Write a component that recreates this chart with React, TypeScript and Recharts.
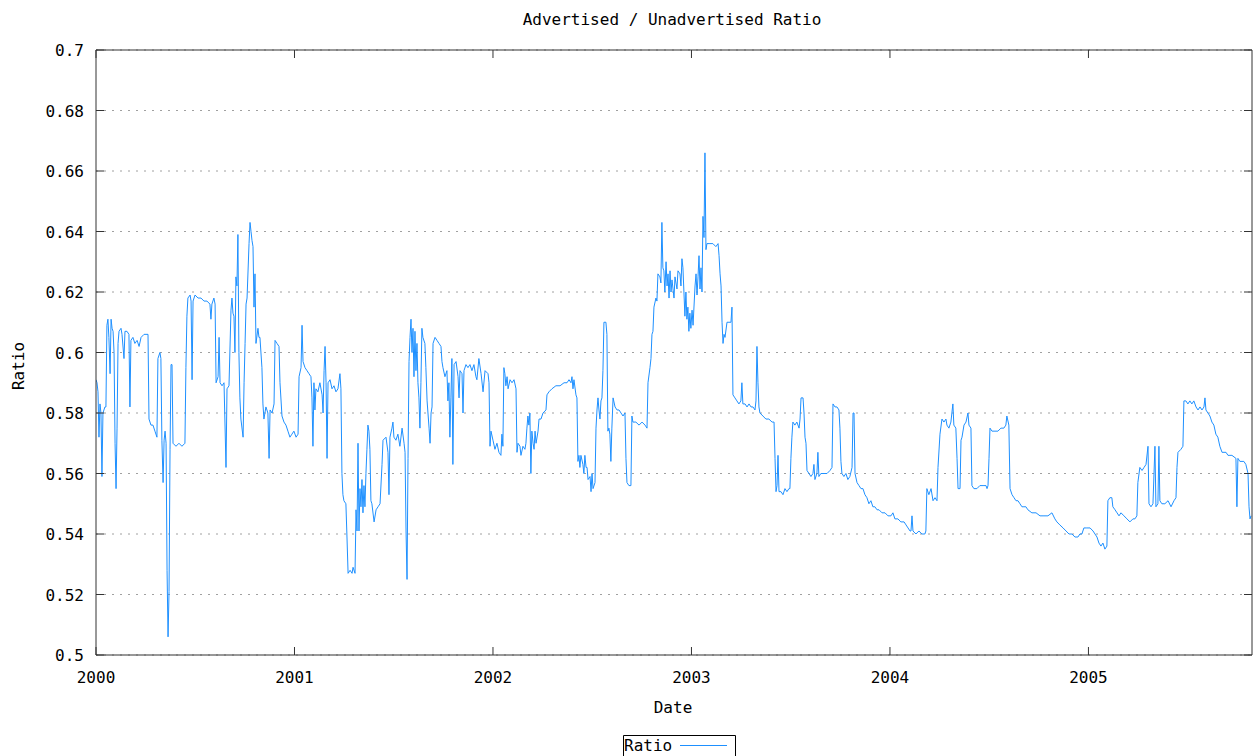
import React from 'react';
import { LineChart, Line, XAxis, YAxis, CartesianGrid, Legend } from 'recharts';

// [decimal year, ratio]
const year2000: [number, number][] = [
  [2000.000, 0.591], [2000.005, 0.590], [2000.010, 0.587], [2000.015, 0.572], [2000.020, 0.583],
  [2000.025, 0.580], [2000.030, 0.559], [2000.035, 0.580], [2000.045, 0.582], [2000.050, 0.582],
  [2000.055, 0.609], [2000.060, 0.611], [2000.065, 0.605], [2000.071, 0.593], [2000.076, 0.611],
  [2000.081, 0.608], [2000.086, 0.607], [2000.091, 0.600], [2000.096, 0.570], [2000.101, 0.555],
  [2000.106, 0.575], [2000.111, 0.603], [2000.116, 0.607], [2000.126, 0.608], [2000.131, 0.606],
  [2000.141, 0.598], [2000.146, 0.607], [2000.156, 0.607], [2000.166, 0.606], [2000.171, 0.582],
  [2000.176, 0.604], [2000.186, 0.605], [2000.196, 0.603], [2000.207, 0.604], [2000.217, 0.602],
  [2000.227, 0.605], [2000.242, 0.606], [2000.262, 0.606], [2000.267, 0.578], [2000.277, 0.576],
  [2000.287, 0.576], [2000.297, 0.574], [2000.307, 0.572], [2000.312, 0.598], [2000.322, 0.600],
  [2000.327, 0.598], [2000.332, 0.571], [2000.338, 0.557], [2000.343, 0.571], [2000.348, 0.574],
  [2000.353, 0.570], [2000.358, 0.528], [2000.363, 0.506], [2000.368, 0.521], [2000.373, 0.568],
  [2000.378, 0.596], [2000.383, 0.596], [2000.388, 0.570], [2000.403, 0.569], [2000.418, 0.570],
  [2000.433, 0.569], [2000.448, 0.570], [2000.453, 0.595], [2000.458, 0.612], [2000.463, 0.618],
  [2000.474, 0.619], [2000.479, 0.617], [2000.484, 0.591], [2000.489, 0.617], [2000.499, 0.619],
  [2000.514, 0.618], [2000.529, 0.618], [2000.544, 0.617], [2000.559, 0.617], [2000.574, 0.616],
  [2000.579, 0.611], [2000.584, 0.616], [2000.594, 0.618], [2000.600, 0.616], [2000.605, 0.590],
  [2000.615, 0.592], [2000.620, 0.605], [2000.625, 0.590], [2000.635, 0.589], [2000.645, 0.590],
  [2000.655, 0.562], [2000.660, 0.588], [2000.670, 0.589], [2000.680, 0.614], [2000.685, 0.618],
  [2000.690, 0.613], [2000.695, 0.612], [2000.700, 0.600], [2000.705, 0.625], [2000.710, 0.622],
  [2000.715, 0.639], [2000.720, 0.600], [2000.725, 0.585], [2000.730, 0.578], [2000.741, 0.572],
  [2000.746, 0.590], [2000.751, 0.603], [2000.756, 0.616], [2000.761, 0.618], [2000.771, 0.636],
  [2000.776, 0.643], [2000.781, 0.640], [2000.786, 0.637], [2000.791, 0.635], [2000.796, 0.615],
  [2000.801, 0.626], [2000.806, 0.603], [2000.816, 0.608], [2000.821, 0.605], [2000.826, 0.605],
  [2000.836, 0.595], [2000.841, 0.583], [2000.846, 0.578], [2000.856, 0.582], [2000.866, 0.580],
  [2000.872, 0.565], [2000.877, 0.581], [2000.887, 0.580], [2000.897, 0.583], [2000.902, 0.604],
  [2000.912, 0.603], [2000.922, 0.602], [2000.927, 0.590], [2000.937, 0.579], [2000.947, 0.577],
  [2000.957, 0.576], [2000.967, 0.574], [2000.977, 0.572], [2000.987, 0.573], [2000.997, 0.574],
];

const year2001: [number, number][] = [
  [2001.008, 0.572], [2001.018, 0.573], [2001.023, 0.592], [2001.033, 0.595], [2001.038, 0.609],
  [2001.043, 0.597], [2001.053, 0.595], [2001.063, 0.594], [2001.073, 0.593], [2001.083, 0.592],
  [2001.088, 0.585], [2001.093, 0.569], [2001.098, 0.590], [2001.103, 0.581], [2001.108, 0.588],
  [2001.118, 0.587], [2001.128, 0.590], [2001.139, 0.586], [2001.144, 0.580], [2001.149, 0.594],
  [2001.154, 0.602], [2001.159, 0.590], [2001.164, 0.565], [2001.169, 0.590], [2001.179, 0.591],
  [2001.189, 0.588], [2001.199, 0.589], [2001.209, 0.587], [2001.219, 0.588], [2001.229, 0.593],
  [2001.234, 0.588], [2001.239, 0.560], [2001.244, 0.553], [2001.249, 0.551], [2001.259, 0.550],
  [2001.264, 0.540], [2001.270, 0.527], [2001.280, 0.528], [2001.290, 0.527], [2001.295, 0.529],
  [2001.305, 0.527], [2001.310, 0.548], [2001.315, 0.541], [2001.320, 0.570], [2001.325, 0.541],
  [2001.330, 0.555], [2001.335, 0.549], [2001.340, 0.558], [2001.345, 0.547], [2001.350, 0.556],
  [2001.355, 0.549], [2001.360, 0.560], [2001.365, 0.568], [2001.370, 0.576], [2001.375, 0.574],
  [2001.380, 0.568], [2001.385, 0.551], [2001.390, 0.550], [2001.401, 0.544], [2001.411, 0.548],
  [2001.421, 0.549], [2001.431, 0.550], [2001.441, 0.563], [2001.446, 0.571], [2001.461, 0.572],
  [2001.471, 0.567], [2001.476, 0.553], [2001.481, 0.572], [2001.491, 0.575], [2001.496, 0.577],
  [2001.501, 0.572], [2001.511, 0.571], [2001.521, 0.573], [2001.531, 0.569], [2001.542, 0.575],
  [2001.552, 0.570], [2001.557, 0.567], [2001.562, 0.541], [2001.567, 0.525], [2001.572, 0.565],
  [2001.577, 0.597], [2001.582, 0.605], [2001.587, 0.611], [2001.592, 0.600], [2001.597, 0.608],
  [2001.602, 0.592], [2001.607, 0.607], [2001.612, 0.594], [2001.617, 0.603], [2001.622, 0.590],
  [2001.627, 0.585], [2001.632, 0.575], [2001.637, 0.590], [2001.642, 0.608], [2001.647, 0.605],
  [2001.657, 0.603], [2001.662, 0.595], [2001.668, 0.584], [2001.678, 0.575], [2001.683, 0.570],
  [2001.688, 0.580], [2001.693, 0.582], [2001.698, 0.603], [2001.708, 0.605], [2001.718, 0.604],
  [2001.728, 0.603], [2001.738, 0.602], [2001.743, 0.597], [2001.748, 0.595], [2001.758, 0.592],
  [2001.768, 0.594], [2001.773, 0.584], [2001.778, 0.590], [2001.783, 0.572], [2001.788, 0.585],
  [2001.793, 0.598], [2001.798, 0.563], [2001.804, 0.596], [2001.814, 0.597], [2001.824, 0.592],
  [2001.829, 0.585], [2001.834, 0.594], [2001.844, 0.593], [2001.849, 0.580], [2001.854, 0.594],
  [2001.864, 0.596], [2001.874, 0.595], [2001.884, 0.596], [2001.894, 0.594], [2001.904, 0.596],
  [2001.914, 0.592], [2001.919, 0.591], [2001.929, 0.598], [2001.940, 0.593], [2001.950, 0.587],
  [2001.960, 0.594], [2001.975, 0.593], [2001.980, 0.590], [2001.985, 0.569], [2001.990, 0.574],
];

const year2002: [number, number][] = [
  [2002.000, 0.571], [2002.010, 0.568], [2002.020, 0.570], [2002.030, 0.567], [2002.040, 0.566],
  [2002.045, 0.573], [2002.050, 0.569], [2002.055, 0.595], [2002.060, 0.593], [2002.065, 0.589],
  [2002.071, 0.592], [2002.076, 0.588], [2002.086, 0.591], [2002.096, 0.590], [2002.106, 0.591],
  [2002.116, 0.588], [2002.121, 0.567], [2002.126, 0.570], [2002.136, 0.569], [2002.141, 0.566],
  [2002.151, 0.569], [2002.161, 0.568], [2002.166, 0.570], [2002.171, 0.575], [2002.176, 0.579],
  [2002.181, 0.576], [2002.186, 0.580], [2002.191, 0.560], [2002.196, 0.574], [2002.202, 0.570],
  [2002.207, 0.568], [2002.212, 0.574], [2002.217, 0.570], [2002.227, 0.574], [2002.232, 0.578],
  [2002.242, 0.578], [2002.252, 0.580], [2002.267, 0.581], [2002.272, 0.586], [2002.282, 0.587],
  [2002.297, 0.588], [2002.317, 0.589], [2002.338, 0.589], [2002.358, 0.590], [2002.373, 0.590],
  [2002.383, 0.591], [2002.393, 0.590], [2002.398, 0.592], [2002.403, 0.588], [2002.408, 0.591],
  [2002.418, 0.586], [2002.423, 0.585], [2002.428, 0.564], [2002.433, 0.566], [2002.438, 0.562],
  [2002.443, 0.566], [2002.453, 0.563], [2002.458, 0.560], [2002.463, 0.566], [2002.469, 0.562],
  [2002.474, 0.562], [2002.479, 0.558], [2002.489, 0.559], [2002.494, 0.554], [2002.499, 0.560],
  [2002.504, 0.555], [2002.514, 0.557], [2002.519, 0.575], [2002.524, 0.581], [2002.529, 0.585],
  [2002.534, 0.581], [2002.539, 0.578], [2002.544, 0.584], [2002.549, 0.585], [2002.554, 0.594],
  [2002.559, 0.610], [2002.569, 0.610], [2002.574, 0.606], [2002.579, 0.574], [2002.584, 0.575],
  [2002.589, 0.573], [2002.594, 0.564], [2002.599, 0.575], [2002.605, 0.585], [2002.615, 0.582],
  [2002.625, 0.581], [2002.635, 0.581], [2002.645, 0.580], [2002.655, 0.579], [2002.665, 0.580],
  [2002.670, 0.565], [2002.675, 0.557], [2002.685, 0.556], [2002.695, 0.556], [2002.700, 0.579],
  [2002.705, 0.577], [2002.720, 0.577], [2002.736, 0.576], [2002.751, 0.577], [2002.766, 0.576],
  [2002.776, 0.575], [2002.781, 0.590], [2002.791, 0.595], [2002.796, 0.598], [2002.801, 0.606],
  [2002.806, 0.607], [2002.811, 0.615], [2002.821, 0.618], [2002.826, 0.617], [2002.831, 0.626],
  [2002.841, 0.625], [2002.846, 0.623], [2002.851, 0.643], [2002.856, 0.628], [2002.861, 0.627],
  [2002.866, 0.620], [2002.872, 0.630], [2002.877, 0.622], [2002.882, 0.626], [2002.887, 0.618],
  [2002.892, 0.627], [2002.897, 0.620], [2002.902, 0.624], [2002.907, 0.621], [2002.912, 0.618],
  [2002.917, 0.625], [2002.927, 0.621], [2002.932, 0.627], [2002.942, 0.626], [2002.947, 0.622],
  [2002.952, 0.631], [2002.957, 0.628], [2002.962, 0.620], [2002.967, 0.612], [2002.972, 0.620],
  [2002.977, 0.611], [2002.982, 0.615], [2002.987, 0.607], [2002.992, 0.613], [2002.997, 0.608],
];

const year2003: [number, number][] = [
  [2003.003, 0.614], [2003.008, 0.609], [2003.018, 0.622], [2003.023, 0.626], [2003.028, 0.619],
  [2003.033, 0.625], [2003.038, 0.632], [2003.043, 0.621], [2003.048, 0.628], [2003.053, 0.620],
  [2003.058, 0.645], [2003.063, 0.638], [2003.068, 0.666], [2003.073, 0.634], [2003.078, 0.636],
  [2003.093, 0.636], [2003.108, 0.636], [2003.123, 0.635], [2003.134, 0.636], [2003.139, 0.632],
  [2003.144, 0.626], [2003.149, 0.622], [2003.154, 0.610], [2003.159, 0.603], [2003.164, 0.606],
  [2003.169, 0.605], [2003.179, 0.610], [2003.189, 0.610], [2003.199, 0.610], [2003.204, 0.615],
  [2003.209, 0.586], [2003.219, 0.585], [2003.229, 0.584], [2003.239, 0.583], [2003.249, 0.584],
  [2003.254, 0.590], [2003.259, 0.583], [2003.270, 0.583], [2003.280, 0.582], [2003.290, 0.583],
  [2003.300, 0.582], [2003.310, 0.582], [2003.320, 0.581], [2003.325, 0.584], [2003.330, 0.602],
  [2003.335, 0.590], [2003.340, 0.582], [2003.345, 0.580], [2003.360, 0.579], [2003.375, 0.578],
  [2003.390, 0.578], [2003.406, 0.577], [2003.416, 0.577], [2003.421, 0.565], [2003.426, 0.554],
  [2003.431, 0.556], [2003.436, 0.566], [2003.441, 0.554], [2003.451, 0.554], [2003.461, 0.553],
  [2003.471, 0.555], [2003.481, 0.554], [2003.491, 0.555], [2003.496, 0.555], [2003.501, 0.565],
  [2003.506, 0.572], [2003.511, 0.577], [2003.521, 0.576], [2003.531, 0.577], [2003.542, 0.575],
  [2003.547, 0.578], [2003.552, 0.585], [2003.562, 0.585], [2003.567, 0.580], [2003.572, 0.572],
  [2003.577, 0.570], [2003.582, 0.561], [2003.592, 0.560], [2003.602, 0.559], [2003.612, 0.560],
  [2003.617, 0.563], [2003.622, 0.558], [2003.632, 0.560], [2003.637, 0.567], [2003.642, 0.559],
  [2003.652, 0.560], [2003.668, 0.560], [2003.683, 0.560], [2003.698, 0.561], [2003.708, 0.562],
  [2003.713, 0.583], [2003.723, 0.582], [2003.733, 0.582], [2003.743, 0.581], [2003.748, 0.575],
  [2003.753, 0.564], [2003.758, 0.560], [2003.768, 0.559], [2003.778, 0.560], [2003.788, 0.558],
  [2003.798, 0.559], [2003.809, 0.562], [2003.814, 0.580], [2003.819, 0.580], [2003.824, 0.560],
  [2003.834, 0.557], [2003.844, 0.556], [2003.854, 0.555], [2003.864, 0.555], [2003.874, 0.553],
  [2003.884, 0.552], [2003.894, 0.550], [2003.904, 0.551], [2003.914, 0.549], [2003.924, 0.549],
  [2003.935, 0.548], [2003.945, 0.548], [2003.960, 0.547], [2003.975, 0.547], [2003.990, 0.546],
];

const year2004: [number, number][] = [
  [2004.005, 0.546], [2004.015, 0.547], [2004.025, 0.545], [2004.040, 0.545], [2004.055, 0.544],
  [2004.071, 0.544], [2004.081, 0.543], [2004.091, 0.542], [2004.101, 0.541], [2004.106, 0.541],
  [2004.111, 0.546], [2004.116, 0.541], [2004.131, 0.540], [2004.146, 0.541], [2004.161, 0.540],
  [2004.176, 0.540], [2004.181, 0.541], [2004.186, 0.555], [2004.196, 0.553], [2004.207, 0.555],
  [2004.217, 0.551], [2004.227, 0.552], [2004.237, 0.551], [2004.242, 0.562], [2004.252, 0.573],
  [2004.262, 0.578], [2004.272, 0.577], [2004.282, 0.578], [2004.287, 0.576], [2004.297, 0.575],
  [2004.307, 0.577], [2004.317, 0.583], [2004.322, 0.576], [2004.332, 0.575], [2004.338, 0.565],
  [2004.343, 0.555], [2004.353, 0.555], [2004.358, 0.571], [2004.363, 0.572], [2004.373, 0.576],
  [2004.383, 0.577], [2004.393, 0.580], [2004.398, 0.576], [2004.408, 0.575], [2004.413, 0.556],
  [2004.423, 0.555], [2004.438, 0.555], [2004.453, 0.556], [2004.469, 0.556], [2004.484, 0.556],
  [2004.489, 0.555], [2004.494, 0.556], [2004.499, 0.565], [2004.504, 0.575], [2004.514, 0.574],
  [2004.529, 0.574], [2004.544, 0.574], [2004.559, 0.575], [2004.574, 0.575], [2004.584, 0.576],
  [2004.589, 0.579], [2004.599, 0.576], [2004.605, 0.555], [2004.615, 0.553], [2004.625, 0.552],
  [2004.635, 0.551], [2004.645, 0.551], [2004.655, 0.550], [2004.665, 0.549], [2004.675, 0.549],
  [2004.685, 0.549], [2004.695, 0.548], [2004.715, 0.547], [2004.736, 0.547], [2004.756, 0.546],
  [2004.776, 0.546], [2004.796, 0.546], [2004.816, 0.547], [2004.831, 0.545], [2004.841, 0.544],
  [2004.856, 0.543], [2004.872, 0.542], [2004.887, 0.541], [2004.902, 0.540], [2004.917, 0.540],
  [2004.932, 0.539], [2004.947, 0.539], [2004.957, 0.540], [2004.967, 0.540], [2004.977, 0.542],
  [2004.992, 0.542],
];

const year2005: [number, number][] = [
  [2005.008, 0.542], [2005.023, 0.541], [2005.033, 0.540], [2005.043, 0.539], [2005.053, 0.537],
  [2005.063, 0.536], [2005.073, 0.537], [2005.083, 0.535], [2005.093, 0.536], [2005.098, 0.551],
  [2005.108, 0.552], [2005.118, 0.552], [2005.123, 0.549], [2005.134, 0.548], [2005.144, 0.547],
  [2005.154, 0.546], [2005.164, 0.547], [2005.179, 0.546], [2005.194, 0.545], [2005.209, 0.544],
  [2005.224, 0.545], [2005.234, 0.545], [2005.244, 0.546], [2005.249, 0.557], [2005.259, 0.562],
  [2005.270, 0.561], [2005.280, 0.562], [2005.290, 0.563], [2005.300, 0.569], [2005.305, 0.550],
  [2005.315, 0.549], [2005.325, 0.550], [2005.335, 0.569], [2005.340, 0.549], [2005.350, 0.550],
  [2005.355, 0.569], [2005.360, 0.551], [2005.370, 0.550], [2005.385, 0.550], [2005.401, 0.551],
  [2005.416, 0.549], [2005.431, 0.551], [2005.441, 0.552], [2005.446, 0.562], [2005.451, 0.567],
  [2005.466, 0.568], [2005.476, 0.569], [2005.481, 0.584], [2005.491, 0.584], [2005.501, 0.583],
  [2005.511, 0.584], [2005.521, 0.583], [2005.531, 0.584], [2005.542, 0.582], [2005.552, 0.581],
  [2005.562, 0.582], [2005.572, 0.581], [2005.582, 0.582], [2005.587, 0.585], [2005.592, 0.581],
  [2005.602, 0.580], [2005.612, 0.579], [2005.622, 0.577], [2005.632, 0.576], [2005.642, 0.573],
  [2005.652, 0.572], [2005.662, 0.569], [2005.673, 0.567], [2005.683, 0.567], [2005.693, 0.567],
  [2005.703, 0.566], [2005.713, 0.566], [2005.723, 0.566], [2005.743, 0.565], [2005.748, 0.549],
  [2005.753, 0.565], [2005.763, 0.564], [2005.783, 0.564], [2005.793, 0.563], [2005.804, 0.560],
  [2005.809, 0.549], [2005.814, 0.545], [2005.819, 0.546],
];

const yearTicks = [2000, 2001, 2002, 2003, 2004, 2005];
const ratioTicks = [0.5, 0.52, 0.54, 0.56, 0.58, 0.6, 0.62, 0.64, 0.66, 0.68, 0.7];
const xDomain: [number, number] = [2000, 2005.824];
const yDomain: [number, number] = [0.5, 0.7];

const TITLE = 'Advertised / Unadvertised Ratio';
const X_LABEL = 'Date';
const Y_LABEL = 'Ratio';
const SERIES_NAME = 'Ratio';

const data = [year2000, year2001, year2002, year2003, year2004, year2005]
  .flat()
  .map(([date, ratio]) => ({ date, ratio }));

const FONT = '"DejaVu Sans Mono", "Liberation Mono", monospace';
const FS = 16;
const AXIS = '#333333';
const LINE = '#1e90ff';
const TICK = 8;

const fmtRatio = (v: number) => String(Number(v.toFixed(2)));

const LeftTick = (p: any) => (
  <g>
    <line x1={p.x} y1={p.y} x2={p.x + TICK} y2={p.y} stroke={AXIS} strokeWidth={1} />
    <text x={p.x - 12} y={p.y} dy={6} textAnchor="end" fontFamily={FONT} fontSize={FS} fill="#000">
      {fmtRatio(p.payload.value)}
    </text>
  </g>
);
const RightTick = (p: any) => (
  <line x1={p.x} y1={p.y} x2={p.x - TICK} y2={p.y} stroke={AXIS} strokeWidth={1} />
);
const BottomTick = (p: any) => (
  <g>
    <line x1={p.x} y1={p.y} x2={p.x} y2={p.y - TICK} stroke={AXIS} strokeWidth={1} />
    <text x={p.x} y={p.y + 28} textAnchor="middle" fontFamily={FONT} fontSize={FS} fill="#000">
      {p.payload.value}
    </text>
  </g>
);
const TopTick = (p: any) => (
  <line x1={p.x} y1={p.y} x2={p.x} y2={p.y + TICK} stroke={AXIS} strokeWidth={1} />
);

const LegendBox = (props: any) => {
  const item = (props.payload && props.payload[0]) || { value: SERIES_NAME, color: LINE };
  return (
    <svg width={113} height={21} style={{ display: 'block', overflow: 'visible' }}>
      <rect x={0} y={0} width={113} height={21} fill="#fff" />
      <polyline points="0.5,21 0.5,0.5 112.5,0.5 112.5,21" fill="none" stroke="#000" strokeWidth={1} />
      <text x={1} y={16} fontFamily={FONT} fontSize={FS} fill="#000">{item.value}</text>
      <line x1={57} y1={10.5} x2={104} y2={10.5} stroke={item.color || LINE} strokeWidth={1} />
    </svg>
  );
};

export default function App() {
  return (
    <div style={{ position: 'relative', width: 1256, height: 756, overflow: 'hidden' }}>
      <style>{'html, body { margin: 0; padding: 0; overflow: hidden; }'}</style>
      <LineChart
        width={1256}
        height={756}
        data={data}
        margin={{ top: 49, right: 3, bottom: 71, left: 0 }}
      >
        <CartesianGrid
          xAxisId="bottom"
          yAxisId="left"
          vertical={false}
          stroke="#a0a0a0"
          strokeDasharray="2 6"
        />
        <XAxis
          xAxisId="bottom"
          dataKey="date"
          type="number"
          orientation="bottom"
          domain={xDomain}
          ticks={yearTicks}
          allowDataOverflow
          interval={0}
          height={30}
          tickSize={0}
          tickMargin={0}
          tickLine={false}
          axisLine={{ stroke: AXIS, strokeWidth: 1 }}
          tick={<BottomTick />}
        />
        <XAxis
          xAxisId="top"
          dataKey="date"
          type="number"
          orientation="top"
          domain={xDomain}
          ticks={yearTicks}
          allowDataOverflow
          interval={0}
          height={1}
          tickSize={0}
          tickMargin={0}
          tickLine={false}
          axisLine={{ stroke: AXIS, strokeWidth: 1 }}
          tick={<TopTick />}
        />
        <YAxis
          yAxisId="left"
          orientation="left"
          type="number"
          domain={yDomain}
          ticks={ratioTicks}
          allowDataOverflow
          interval={0}
          width={96}
          tickSize={0}
          tickMargin={0}
          tickLine={false}
          axisLine={{ stroke: AXIS, strokeWidth: 1 }}
          tick={<LeftTick />}
        />
        <YAxis
          yAxisId="right"
          orientation="right"
          type="number"
          domain={yDomain}
          ticks={ratioTicks}
          allowDataOverflow
          interval={0}
          width={1}
          tickSize={0}
          tickMargin={0}
          tickLine={false}
          axisLine={{ stroke: AXIS, strokeWidth: 1 }}
          tick={<RightTick />}
        />
        <Line
          xAxisId="bottom"
          yAxisId="left"
          type="linear"
          dataKey="ratio"
          name={SERIES_NAME}
          stroke={LINE}
          strokeWidth={1}
          dot={false}
          activeDot={false}
          isAnimationActive={false}
        />
        <Legend
          layout="horizontal"
          verticalAlign="middle"
          align="center"
          wrapperStyle={{ position: 'absolute', left: 623, top: 735, width: 113, height: 21 }}
          content={<LegendBox />}
        />
      </LineChart>
      <svg
        width={1256}
        height={756}
        style={{ position: 'absolute', left: 0, top: 0, pointerEvents: 'none' }}
      >
        <text x={672} y={25} textAnchor="middle" fontFamily={FONT} fontSize={FS} fill="#000">
          {TITLE}
        </text>
        <text x={673} y={713} textAnchor="middle" fontFamily={FONT} fontSize={FS} fill="#000">
          {X_LABEL}
        </text>
        <text
          x={24}
          y={366}
          transform="rotate(-90 24 366)"
          textAnchor="middle"
          fontFamily={FONT}
          fontSize={FS}
          fill="#000"
        >
          {Y_LABEL}
        </text>
      </svg>
    </div>
  );
}
